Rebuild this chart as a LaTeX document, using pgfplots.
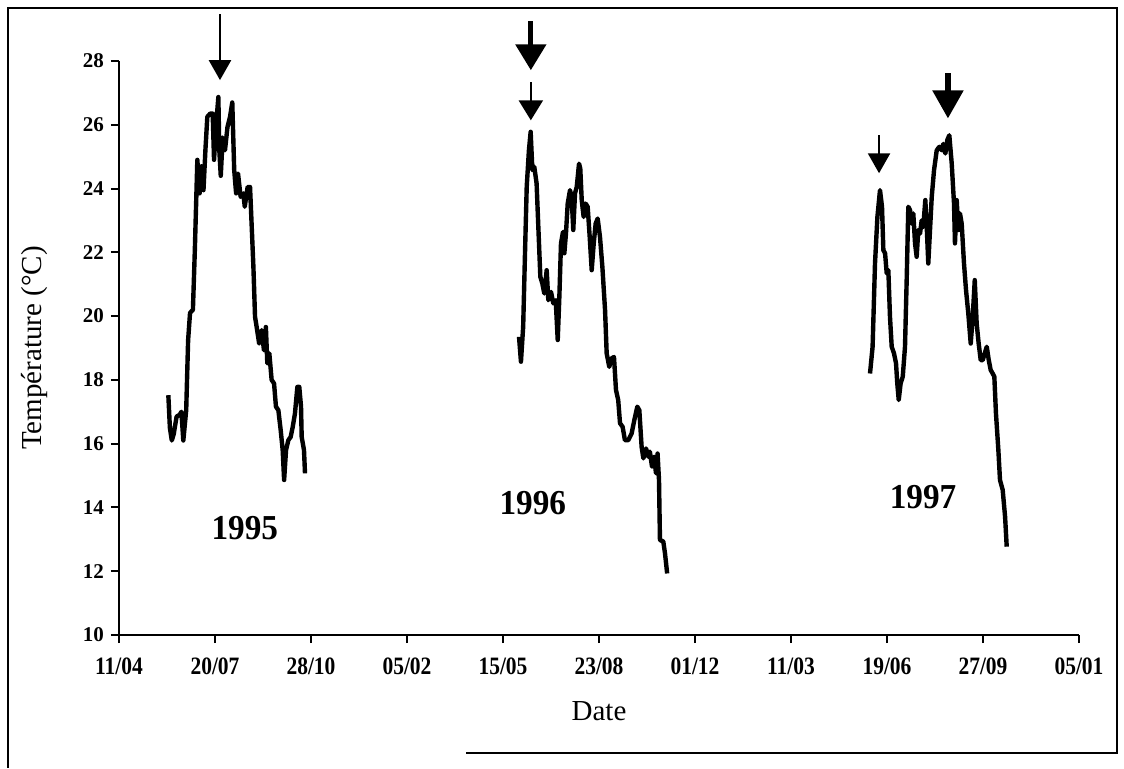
\documentclass[border=0pt]{standalone}
\usepackage{pgfplots}
\pgfplotsset{compat=1.18}
\usepackage{fontspec}
\setmainfont{Liberation Serif}
\usetikzlibrary{arrows.meta}

\pgfplotstableread{
d t
51.4 17.52
53 16.5
55 16.1
57 16.3
60 16.85
63 16.9
65 17.0
67 16.1
70 17.05
72 19.25
74 20.1
77 20.2
79 22.07
81.6 24.9
84 23.85
86 24.7
88 23.95
90 25.2
92 26.25
95 26.35
97.6 26.35
99 24.9
101 25.93
103.5 26.87
104.5 25.2
106 24.4
108 25.6
110.4 25.2
113 25.93
115.6 26.24
118 26.7
120 24.58
122 23.85
124 24.47
126.7 23.74
129.5 23.85
131 23.43
134 24.05
136.5 24.05
137.7 23.2
140 21.55
141.7 19.98
143.4 19.66
146 19.14
148.6 19.56
151 18.93
153 19.66
154.5 18.52
156.6 18.83
159 18.0
161.5 17.89
163.5 17.16
166 17.05
168.4 16.43
170.5 15.8
172 14.86
174 15.8
176.4 16.11
178.8 16.21
181 16.53
183.3 16.95
185.8 17.78
187.8 17.78
189.6 17.16
190.3 16.21
192.7 15.8
193.75 15.07
}\yearA

\pgfplotstableread{
d t
416.7 19.35
418.7 18.57
421 19.66
423 22.07
424.7 24.05
427 25.2
428.8 25.78
430.6 24.58
432.6 24.68
435 24.16
436.8 22.8
438.9 21.23
441 21.02
443 20.71
445.5 21.44
447.2 20.5
450 20.76
452.4 20.4
454.9 20.5
457 19.25
458.7 20.6
460.4 22.28
462.5 22.64
463.9 21.97
465.6 22.6
467.4 23.53
469.8 23.95
471.5 23.74
473.2 22.7
475 23.85
476.8 24.05
479.2 24.78
480.5 24.63
482 23.64
484 23.11
486 23.53
488.2 23.43
490.3 22.49
492.4 21.44
494.5 22.28
496.5 22.9
498.6 23.06
501 22.49
503.5 21.55
506.3 20.19
508 18.83
510.7 18.41
513 18.67
515.6 18.72
517.7 17.68
520 17.37
521.9 16.64
524.6 16.53
527 16.11
530.5 16.11
534 16.32
536.8 16.74
539.9 17.16
542 17.05
544.4 15.9
546.2 15.54
549 15.85
551.4 15.59
553 15.75
555.2 15.28
557.3 15.59
559.4 15.07
561 15.69
562.5 14.86
563.5 12.98
567 12.93
568.75 12.56
571 11.93
}\yearB

\pgfplotstableread{
d t
782.3 18.2
785 19.04
787.5 21.65
790 23.11
792.7 23.95
794.8 23.43
796.2 22.07
798 21.97
799.7 21.34
801.4 21.44
803.1 19.98
804.9 19.04
807.3 18.83
809.4 18.52
810.7 17.89
812.2 17.37
814.2 17.89
816.4 18.1
818.75 19.04
820.5 21.13
822.2 23.43
824 23.32
825.7 22.9
827.4 23.22
829.2 22.28
830.9 21.86
832.6 22.7
834.4 22.59
836.1 23.0
837.8 22.8
839.9 23.64
841.4 22.8
843 21.65
844.8 22.7
846.6 23.74
849 24.58
851.8 25.2
854.5 25.31
857 25.2
858.6 25.4
860.8 25.1
862.8 25.52
864.9 25.67
867.4 24.79
869.8 23.53
870.8 22.28
872.6 23.64
874.3 22.7
876 23.22
877.8 22.9
880.2 21.65
882.3 20.82
884.7 20.08
887.2 19.14
889.3 19.98
891.4 21.13
893.4 19.77
895.5 19.14
897.6 18.62
899.7 18.62
901.8 18.83
903.9 19.04
906 18.62
908 18.31
910.1 18.2
911.8 18.1
913.5 16.95
916 15.8
917.7 14.86
920.5 14.55
923 13.71
924.7 12.77
}\yearC

\begin{document}
\begin{tikzpicture}
\useasboundingbox (0pt,0pt) rectangle (562pt,384pt);
\draw[line width=1pt] (233pt,7.5pt) -- (558.5pt,7.5pt) -- (558.5pt,380pt) -- (4pt,380pt) -- (4pt,0pt);
\begin{axis}[
  at={(59.5pt,66.5pt)}, anchor=south west,
  scale only axis, width=480pt, height=287pt,
  xmin=0, xmax=1000, ymin=10, ymax=28,
  axis x line*=bottom, axis y line*=left,
  axis line style={line width=1.1pt, -},
  tick align=outside, major tick length=4pt,
  tick style={line width=1pt, black},
  xtick={0,100,...,1000},
  xticklabels={11/04,20/07,28/10,05/02,15/05,23/08,01/12,11/03,19/06,27/09,05/01},
  ytick={10,12,...,28},
  /pgf/number format/assume math mode=true,
  yticklabel style={font=\fontsize{10.5}{12}\selectfont\bfseries},
  xticklabel style={font=\fontsize{12.5}{14}\selectfont\bfseries, xscale=0.86, yshift=-4pt},
  xlabel={Date}, ylabel={Température (°C)},
  label style={font=\fontsize{14.5}{17}\selectfont},
  xlabel style={at={(axis description cs:0.5,-0.1324)}, anchor=center},
  ylabel style={at={(axis description cs:-0.0875,0.5)}, anchor=center},
  clip=false,
]
\addplot[black, line width=2.2pt, line join=round] table[x=d,y=t] {\yearA};
\addplot[black, line width=2.2pt, line join=round] table[x=d,y=t] {\yearB};
\addplot[black, line width=2.2pt, line join=round] table[x=d,y=t] {\yearC};
\node[font=\fontsize{17.5}{20}\selectfont\bfseries, xscale=0.95] at (axis cs:131,13.35) {1995};
\node[font=\fontsize{17.5}{20}\selectfont\bfseries, xscale=0.95] at (axis cs:431,14.14) {1996};
\node[font=\fontsize{17.5}{20}\selectfont\bfseries, xscale=0.95] at (axis cs:837.5,14.33) {1997};
% thin arrows
\draw[line width=1.2pt, -{Triangle[width=11pt,length=10pt]}] (axis cs:105.2,29.47) -- (axis cs:105.2,27.4);
\draw[line width=1.2pt, -{Triangle[width=12pt,length=10pt]}] (axis cs:429,27.34) -- (axis cs:429,26.14);
\draw[line width=1.2pt, -{Triangle[width=11pt,length=10pt]}] (axis cs:791.7,25.67) -- (axis cs:791.7,24.48);
% thick arrows
\draw[line width=2.6pt, -{Triangle[width=15pt,length=13pt]}] (axis cs:429,29.25) -- (axis cs:429,27.71);
\draw[line width=2.6pt, -{Triangle[width=15pt,length=14pt]}] (axis cs:863.5,27.62) -- (axis cs:863.5,26.2);
\end{axis}
\end{tikzpicture}
\end{document}
